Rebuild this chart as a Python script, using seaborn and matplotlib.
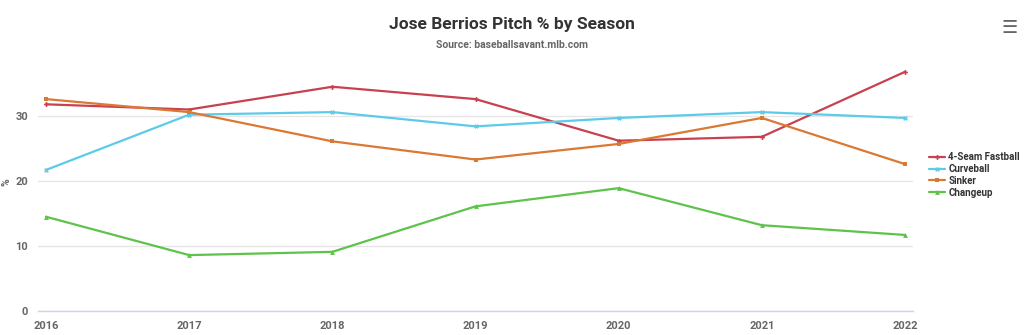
import matplotlib
matplotlib.use("Agg")
import matplotlib.pyplot as plt
import seaborn as sns
import pandas as pd

seasons = [2016, 2017, 2018, 2019, 2020, 2021, 2022]
four_seam = [31.8, 31.0, 34.5, 32.6, 26.2, 26.8, 36.8]
curveball = [21.7, 30.2, 30.6, 28.4, 29.7, 30.6, 29.7]
sinker = [32.6, 30.6, 26.1, 23.3, 25.7, 29.7, 22.6]
changeup = [14.5, 8.6, 9.1, 16.1, 18.9, 13.2, 11.7]
pitch_names = ["4-Seam Fastball", "Curveball", "Sinker", "Changeup"]
y_ticks = [0, 10, 20, 30]

colors = {"4-Seam Fastball": "#c8414f", "Curveball": "#5dcbe8",
          "Sinker": "#db7832", "Changeup": "#5fc24b"}
markers = {"4-Seam Fastball": "P", "Curveball": "X", "Sinker": "s", "Changeup": "^"}

df = pd.DataFrame({"Season": seasons, pitch_names[0]: four_seam, pitch_names[1]: curveball,
                   pitch_names[2]: sinker, pitch_names[3]: changeup})
long = df.melt(id_vars="Season", var_name="Pitch", value_name="Pct")

sns.set_theme(style="white")
plt.rcParams['font.family'] = ['Roboto', 'DejaVu Sans']

fig = plt.figure(figsize=(10.24, 3.35), dpi=100)
ax = fig.add_axes([38/1024, 1-311/335, (913-38)/1024, 247/335])

sns.lineplot(data=long, x="Season", y="Pct", hue="Pitch", hue_order=pitch_names,
             palette=colors, style="Pitch", markers=markers, dashes=False,
             markersize=3.5, markeredgewidth=0, linewidth=1.6, ax=ax, legend=True)

ax.set_xlim(2016 - 8/143.2, 2022 + 8/143.2)
ax.set_ylim(0, 38)
ax.set_yticks(y_ticks)
ax.set_xticks(seasons)
ax.set_xticklabels([str(s) for s in seasons])
ax.grid(axis="y", color="#e6e6e6", linewidth=1)
ax.grid(axis="x", visible=False)
for s in ["top", "right", "left"]:
    ax.spines[s].set_visible(False)
ax.spines["bottom"].set_color("#ccd6eb")
ax.spines["bottom"].set_linewidth(1)
ax.tick_params(axis="x", colors="#ccd6eb", length=5, width=1, direction="out", pad=2)
ax.tick_params(axis="y", length=0, pad=7)
for lbl in ax.get_xticklabels() + ax.get_yticklabels():
    lbl.set_color("#666666")
    lbl.set_fontsize(8)
    lbl.set_fontweight("bold")
ax.set_xlabel("")
ax.set_ylabel("%", color="#666666", fontsize=7.5, fontweight="bold")
ax.yaxis.set_label_coords(-27/875, 0.52)

handles, labels = ax.get_legend_handles_labels()
ax.legend(handles, labels, loc="center left", bbox_to_anchor=(929/1024, 1-175/335),
          bbox_transform=fig.transFigure, frameon=False,
          prop={"weight": "bold", "size": 7}, handlelength=1.6, handletextpad=0.4,
          labelspacing=0.18, borderaxespad=0, borderpad=0)
for t in ax.get_legend().get_texts():
    t.set_color("#333333")

fig.text(0.5, 1-24/335, "Jose Berrios Pitch % by Season", ha="center", va="center",
         fontsize=12.5, fontweight="bold", color="#333333")
fig.text(0.5, 1-45/335, "Source: baseballsavant.mlb.com", ha="center", va="center",
         fontsize=7.5, fontweight="bold", color="#666666")
fig.text(1010/1024, 1-28/335, "\u2630", ha="center", va="center", fontsize=13,
         color="#666666", family="DejaVu Sans")

fig.savefig("out.png", dpi=100)
